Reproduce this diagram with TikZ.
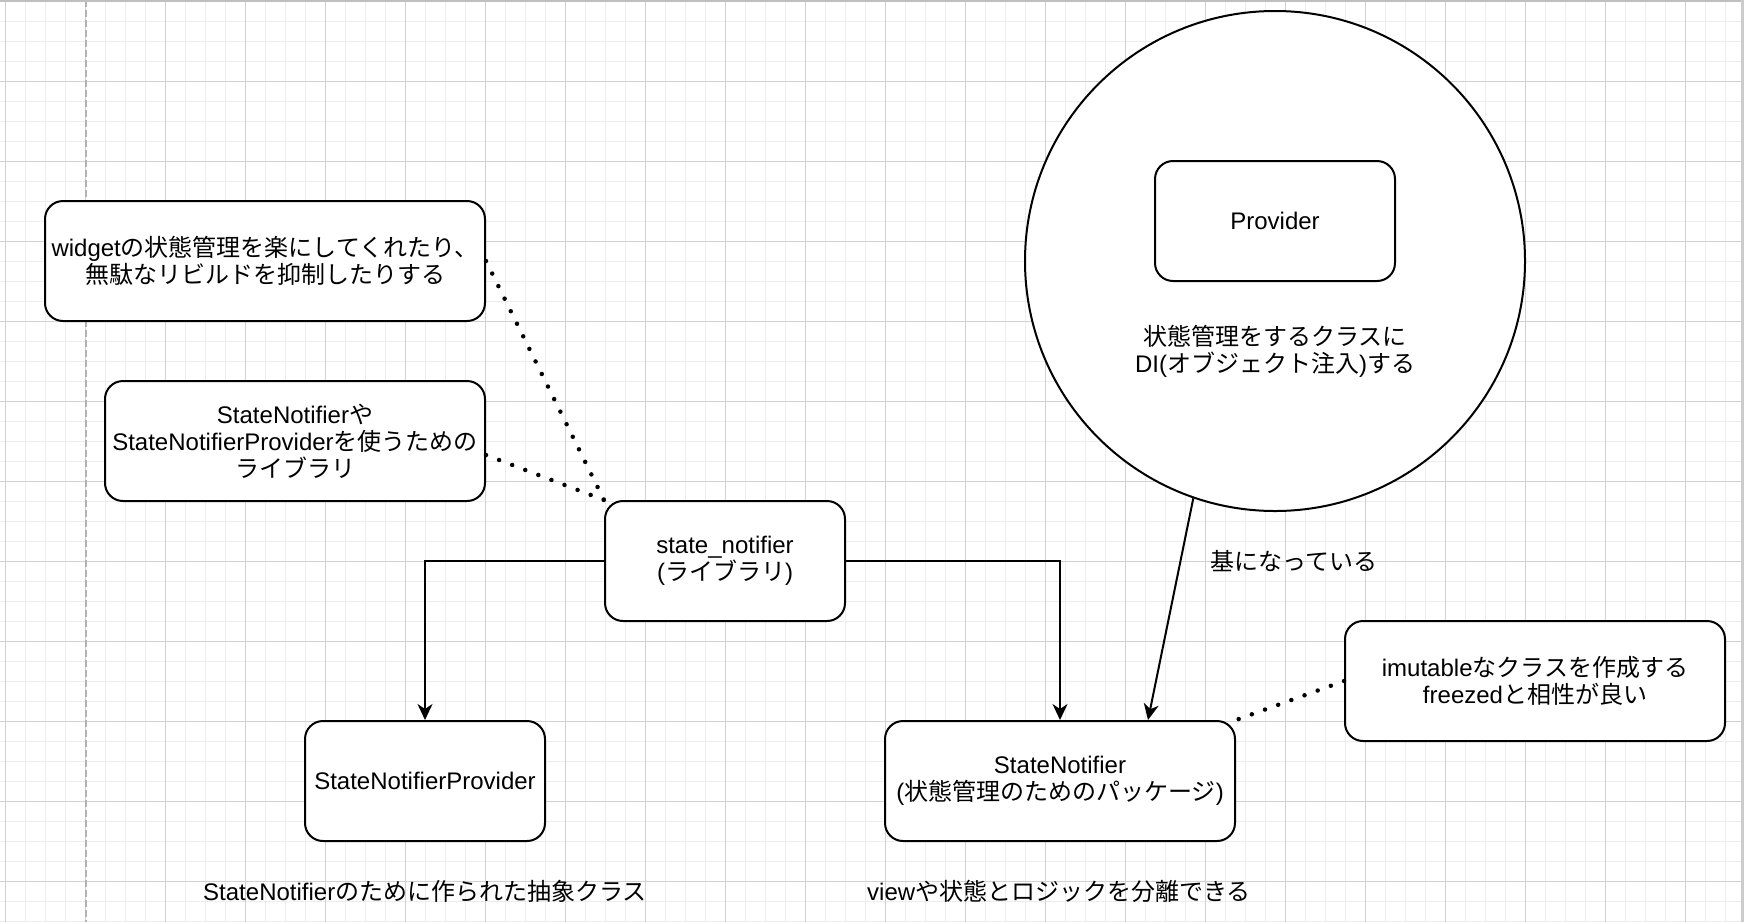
\documentclass[tikz,border=0pt]{standalone}
\usepackage{fontspec}
\setmainfont{Liberation Sans}
\newfontfamily\jp{Noto Sans CJK JP}
\usetikzlibrary{arrows.meta,calc}
\newcommand\fsz{\fontsize{24pt}{27pt}\selectfont}
\tikzset{
  minorline/.style={draw=black!7, line width=1pt},
  majorline/.style={draw=black!18, line width=1pt},
  box/.style={draw, line width=2pt, rounded corners=18pt, minimum height=120pt, align=center, font=\fsz, inner sep=0pt, fill=white},
  lbl/.style={align=center, font=\fsz, inner sep=0pt},
  arr/.style={line width=2pt, -{Stealth[length=16pt,width=15pt,inset=5pt]}},
  dotline/.style={line width=4.5pt, dash pattern=on 0pt off 14pt, line cap=round},
}
\begin{document}
\begin{tikzpicture}[x=1pt,y=-1pt]
\useasboundingbox (0,0) rectangle (1745,922);
\fill[white] (0,0) rectangle (1745,922);
% grid
\foreach \x in {5,25,...,1725} \draw[minorline] (\x,0) -- (\x,922);
\foreach \y in {1,21,...,921} \draw[minorline] (0,\y) -- (1741,\y);
\foreach \x in {5,85,...,1725} \draw[majorline] (\x,0) -- (\x,922);
\foreach \y in {1,81,...,921} \draw[majorline] (0,\y) -- (1741,\y);
\draw[black!30, line width=2pt, dash pattern=on 7pt off 3pt] (86,0) -- (86,922);
\draw[black!25, line width=2pt] (0,0.5) -- (1742,0.5);
\draw[black!20, line width=3pt] (1742,0) -- (1742,922);

% circle with provider
\node[draw, circle, line width=2pt, minimum size=500pt, inner sep=0pt, fill=white] (circ) at (1275,261) {};
\node[box, minimum width=240pt] (prov) at (1275,221) {Provider};
\node[lbl] (circtxt) at (1275,351) {{\jp 状態管理をするクラスに}\\DI({\jp オブジェクト注入}){\jp する}};

% boxes
\node[box, minimum width=440pt] (b1) at (265,261) {widget{\jp の状態管理を楽にしてくれたり、}\\{\jp 無駄なリビルドを抑制したりする}};
\node[box, minimum width=380pt] (b2) at (295,441) {StateNotifier{\jp や}\\StateNotifierProvider{\jp を使うための}\\{\jp ライブラリ}};
\node[box, minimum width=240pt] (sn) at (725,561) {state\_notifier\\({\jp ライブラリ})};
\node[box, minimum width=240pt] (snp) at (425,781) {StateNotifierProvider};
\node[box, minimum width=350pt] (st) at (1060,781) {StateNotifier\\({\jp 状態管理のためのパッケージ})};
\node[box, minimum width=380pt] (im) at (1535,681) {imutable{\jp なクラスを作成する}\\freezed{\jp と相性が良い}};

% labels
\node[lbl] (base) at (1294,561) {\jp 基になっている};
\node[lbl] (snpnote) at (425,891) {StateNotifier{\jp のために作られた抽象クラス}};
\node[lbl] (stnote) at (1059,891) {view{\jp や状態とロジックを分離できる}};

% connectors
\draw[arr] (sn.west) -| (snp.north);
\draw[arr] (sn.east) -| (st.north);
\draw[arr] (circ.251.7) -- ($(st.north)+(88,0)$);
\draw[dotline] (b1.east) -- (sn.north west);
\draw[dotline] ($(b2.east)+(0,14)$) -- (sn.north west);
\draw[dotline] (im.west) -- (st.north east);
\end{tikzpicture}
\end{document}
